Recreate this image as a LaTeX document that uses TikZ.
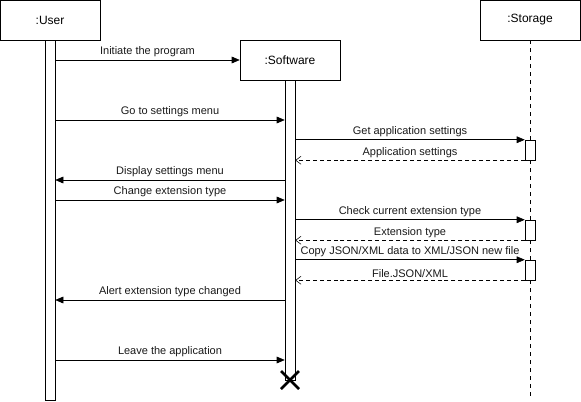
\documentclass[tikz,border=0pt]{standalone}
\usepackage{fontspec}
\setmainfont{Liberation Sans}
\usetikzlibrary{arrows.meta, positioning}
\definecolor{lineBlack}{gray}{0.0}
\definecolor{textGray}{gray}{0.1}

\tikzset{
    actor/.style={draw=lineBlack, fill=white, minimum width=100*0.75pt, minimum height=40*0.75pt, inner sep=0pt, font=\fontsize{9}{10}\selectfont},
    actbar/.style={draw=lineBlack, fill=white, minimum width=10*0.75pt, inner sep=0pt},
    call/.style={-{Triangle[length=6pt, width=5pt]}, lineBlack},
    reply/.style={-{Straight Barb[length=4pt, width=6pt]}, dashed, dash pattern=on 3pt off 2.2pt, lineBlack},
    msg/.style={above, inner sep=2pt, text=textGray, font=\fontsize{8.25}{9}\selectfont},
}

\begin{document}
\begin{tikzpicture}[x=0.75pt, y=-0.75pt]
    \useasboundingbox (0,0) rectangle (581,401);

    % Lifelines
    \node[actor] (user) at (50,20) {:User};
    \node[actor] (soft) at (290,60) {:Software};
    \node[actor] (store) at (530,20) {:Storage};
    \coordinate (storeEnd) at (530,400);
    \draw[dashed, dash pattern=on 3pt off 3pt, lineBlack] (store.south) -- (storeEnd);

    % Activation bars
    \node[actbar, minimum height=360*0.75pt, below=0pt of user] (ubar) {};
    \node[actbar, minimum height=300*0.75pt, below=0pt of soft] (sbar) {};
    \node[actbar, minimum height=20*0.75pt] (st1) at (530,150) {};
    \node[actbar, minimum height=20*0.75pt] (st2) at (530,230) {};
    \node[actbar, minimum height=20*0.75pt] (st3) at (530,270) {};

    % Message levels
    \coordinate (m1) at (0,60);
    \coordinate (m2) at (0,120);
    \coordinate (m5) at (0,180);
    \coordinate (m6) at (0,200);
    \coordinate (m11) at (0,300);
    \coordinate (m12) at (0,360);

    % Messages
    \draw[call] (ubar.east |- m1) -- (soft.west) node[msg, midway] {Initiate the program};
    \draw[call] (ubar.east |- m2) -- (sbar.west |- m2) node[msg, midway] {Go to settings menu};
    \draw[call] (sbar.east |- st1.north) -- (st1.north west) node[msg, midway] {Get application settings};
    \draw[reply] (st1.south west) -- (sbar.east |- st1.south) node[msg, midway] {Application settings};
    \draw[call] (sbar.west |- m5) -- (ubar.east |- m5) node[msg, midway] {Display settings menu};
    \draw[call] (ubar.east |- m6) -- (sbar.west |- m6) node[msg, midway] {Change extension type};
    \draw[call] (sbar.east |- st2.north) -- (st2.north west) node[msg, midway] {Check current extension type};
    \draw[reply] (st2.south west) -- (sbar.east |- st2.south) node[msg, midway] {Extension type};
    \draw[call] (sbar.east |- st3.north) -- (st3.north west) node[msg, midway] {Copy JSON/XML data to XML/JSON new file};
    \draw[reply] (st3.south west) -- (sbar.east |- st3.south) node[msg, midway] {File.JSON/XML};
    \draw[call] (sbar.west |- m11) -- (ubar.east |- m11) node[msg, midway] {Alert extension type changed};
    \draw[call] (ubar.east |- m12) -- (sbar.west |- m12) node[msg, midway] {Leave the application};

    % Destroy
    \coordinate (kill) at (290,380);
    \draw[line width=2pt, lineBlack] ([shift={(-9,-9)}]kill) -- ([shift={(9,9)}]kill)
        ([shift={(-9,9)}]kill) -- ([shift={(9,-9)}]kill);
\end{tikzpicture}
\end{document}
